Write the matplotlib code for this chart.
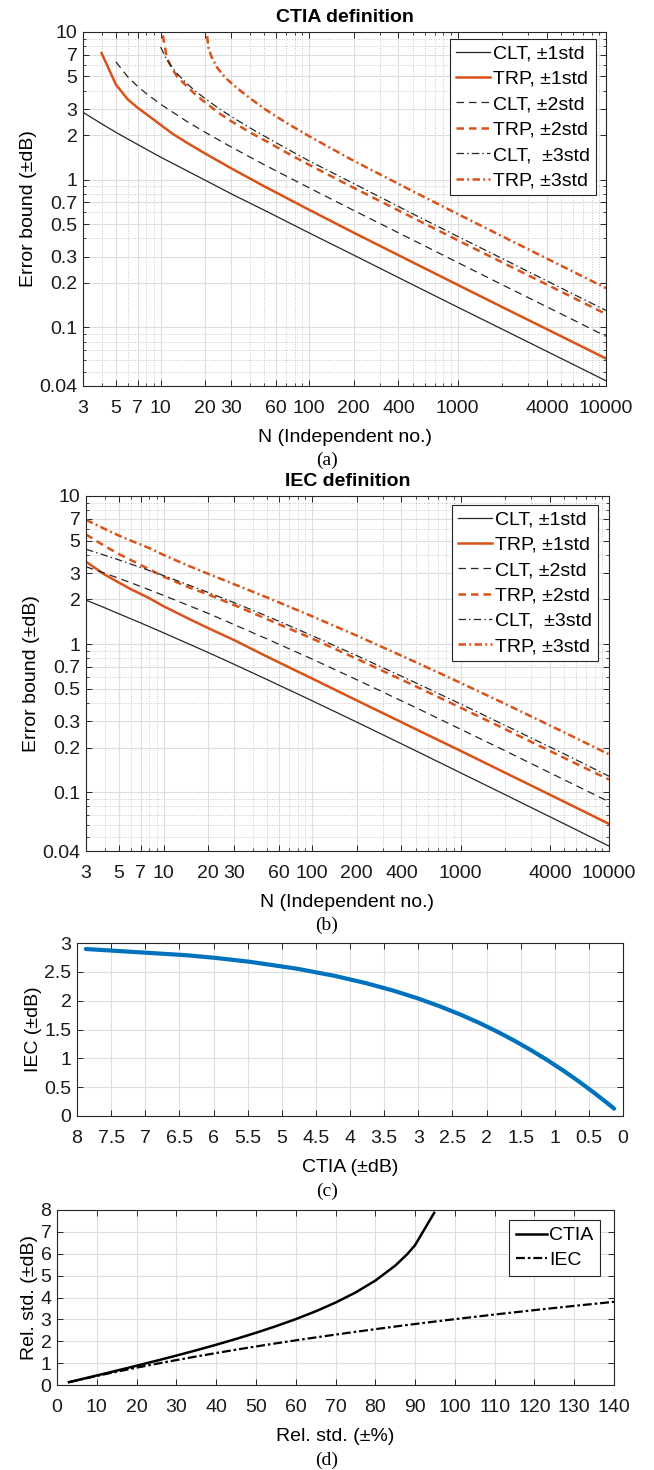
import numpy as np
import matplotlib
matplotlib.use('Agg')
import matplotlib.pyplot as plt
from matplotlib.ticker import FixedLocator, NullFormatter

# ---- (a) CTIA definition: error bound (+-dB) vs N ----
n_clt1_a = [3, 4, 5, 7, 10, 20, 30, 50, 100, 200, 500, 1000, 2000, 5000, 10000]
clt1_a = [2.86, 2.39, 2.09, 1.73, 1.42, 0.99, 0.80, 0.62, 0.436, 0.308, 0.194, 0.137, 0.097, 0.0614, 0.0434]
n_clt2_a = [5, 6, 7, 8, 10, 15, 20, 30, 50, 100, 200, 500, 1000, 2000, 5000, 10000]
clt2_a = [6.27, 4.98, 4.28, 3.83, 3.24, 2.48, 2.09, 1.66, 1.26, 0.88, 0.618, 0.39, 0.275, 0.194, 0.123, 0.0869]
n_clt3_a = [10, 11, 12, 13, 15, 17, 20, 25, 30, 40, 50, 70, 100, 200, 500, 1000, 2000, 5000, 10000]
clt3_a = [7.90, 6.50, 5.72, 5.19, 4.48, 4.01, 3.53, 3.01, 2.67, 2.24, 1.97, 1.63, 1.34, 0.94, 0.586, 0.413, 0.292, 0.184, 0.130]
n_trp1_a = [4, 5, 6, 7, 8, 10, 12, 15, 20, 30, 50, 100, 200, 500, 1000, 2000, 5000, 10000]
trp1_a = [7.2, 4.4, 3.5, 3.07, 2.78, 2.35, 2.05, 1.78, 1.5, 1.19, 0.9, 0.625, 0.437, 0.275, 0.194, 0.137, 0.0868, 0.0614]
n_trp2_a = [10, 11, 12, 13, 15, 17, 20, 25, 30, 40, 50, 70, 100, 200, 500, 1000, 2000, 5000, 10000]
trp2_a = [11.5, 6.7, 5.6, 4.95, 4.3, 3.8, 3.33, 2.8, 2.48, 2.09, 1.85, 1.53, 1.26, 0.88, 0.552, 0.389, 0.275, 0.174, 0.1229]
n_trp3_a = [20, 21, 22, 24, 27, 30, 35, 40, 50, 70, 100, 200, 500, 1000, 2000, 5000, 10000]
trp3_a = [12, 7.8, 6.8, 5.75, 4.95, 4.5, 3.95, 3.56, 3.02, 2.43, 1.97, 1.34, 0.834, 0.586, 0.413, 0.261, 0.184]

# ---- (b) IEC definition ----
n_clt_b = [3, 4, 5, 7, 10, 20, 30, 50, 100, 200, 500, 1000, 2000, 5000, 10000]
clt1_b = [1.98, 1.76, 1.60, 1.39, 1.19, 0.876, 0.728, 0.574, 0.414, 0.297, 0.190, 0.135, 0.096, 0.061, 0.0432]
clt2_b = [3.33, 3.01, 2.78, 2.45, 2.13, 1.61, 1.35, 1.08, 0.792, 0.574, 0.372, 0.266, 0.190, 0.121, 0.086]
clt3_b = [4.37, 3.98, 3.70, 3.29, 2.90, 2.23, 1.90, 1.54, 1.14, 0.835, 0.547, 0.394, 0.282, 0.181, 0.128]
n_trp_b = [3, 4, 5, 6, 7, 8, 10, 15, 20, 30, 50, 100, 200, 500, 1000, 2000, 5000, 10000]
trp1_b = [3.6, 2.95, 2.6, 2.35, 2.18, 2.04, 1.8, 1.47, 1.28, 1.06, 0.82, 0.585, 0.416, 0.266, 0.19, 0.135, 0.086, 0.061]
trp2_b = [5.5, 4.6, 4.05, 3.7, 3.42, 3.2, 2.85, 2.4, 2.16, 1.83, 1.47, 1.09, 0.795, 0.518, 0.372, 0.266, 0.17, 0.1215]
trp3_b = [6.9, 6.0, 5.4, 5.0, 4.7, 4.45, 4.0, 3.35, 2.98, 2.53, 2.06, 1.54, 1.14, 0.754, 0.547, 0.394, 0.253, 0.18]

# ---- (c)/(d) relative std ----
rel_pct = [3, 5, 10, 15, 20, 25, 30, 35, 40, 45, 50, 55, 60, 65, 70, 75, 80, 85, 88, 90, 94.8]
ctia_db = [0.130, 0.217, 0.436, 0.656, 0.880, 1.109, 1.344, 1.587, 1.840, 2.105, 2.386, 2.686,
           3.010, 3.367, 3.766, 4.225, 4.771, 5.455, 5.975, 6.394, 7.87]
iec_db = [0.128, 0.212, 0.414, 0.607, 0.792, 0.969, 1.139, 1.303, 1.461, 1.614, 1.761, 1.903,
          2.041, 2.175, 2.304, 2.430, 2.553, 2.672, 2.742, 2.788, 2.896]
rel_pct_ext = [100, 110, 120, 130, 140]
iec_db_ext = [3.010, 3.222, 3.424, 3.617, 3.802]

xt_log = [3, 5, 7, 10, 20, 30, 60, 100, 200, 400, 1000, 4000, 10000]
xt_log_minor = [4, 6, 8, 9, 40, 50, 70, 80, 90, 300, 500, 600, 700, 800, 900,
                2000, 3000, 5000, 6000, 7000, 8000, 9000]
yt_log = [0.04, 0.1, 0.2, 0.3, 0.5, 0.7, 1, 2, 3, 5, 7, 10]
yt_log_lab = ['0.04', '0.1', '0.2', '0.3', '0.5', '0.7', '1', '2', '3', '5', '7', '10']
yt_log_minor = [0.05, 0.06, 0.07, 0.08, 0.09, 0.4, 0.6, 0.8, 0.9, 4, 6, 8, 9]

FS = 14
plt.rcParams['font.family'] = ['Liberation Sans', 'DejaVu Sans']
plt.rcParams['font.size'] = FS

ORANGE = '#D95319'
DARK = '#262626'
GRID = '#dedede'

fig = plt.figure(figsize=(6.54, 14.7), dpi=100)
W, H = 654.0, 1470.0


def add_ax(l, t, r, b):
    return fig.add_axes([l / W, 1 - b / H, (r - l) / W, (b - t) / H])


def frame(ax):
    for s in ax.spines.values():
        s.set_color(DARK)
        s.set_linewidth(0.8)
    ax.tick_params(which='both', direction='in', top=True, right=True, colors=DARK,
                   labelcolor='#1a1a1a', labelsize=FS)
    ax.tick_params(which='major', length=4, width=0.7)
    ax.tick_params(which='minor', length=2.5, width=0.6)
    ax.tick_params(axis='x', pad=10)
    ax.tick_params(axis='y', pad=4)
    ax.set_axisbelow(True)


def log_panel(ax, title):
    ax.set_xscale('log')
    ax.set_yscale('log')
    ax.set_xlim(3, 10000)
    ax.set_ylim(0.04, 10)
    ax.xaxis.set_major_locator(FixedLocator(xt_log))
    ax.set_xticklabels([str(v) for v in xt_log])
    ax.xaxis.set_minor_locator(FixedLocator(xt_log_minor))
    ax.xaxis.set_minor_formatter(NullFormatter())
    ax.yaxis.set_major_locator(FixedLocator(yt_log))
    ax.set_yticklabels(yt_log_lab)
    ax.yaxis.set_minor_locator(FixedLocator(yt_log_minor))
    ax.yaxis.set_minor_formatter(NullFormatter())
    ax.grid(which='major', color=GRID, lw=0.8, ls='-')
    ax.grid(which='minor', color='#c8c8c8', lw=0.7, ls=':')
    frame(ax)
    ax.set_title(title, fontweight='bold', fontsize=FS, pad=7)
    ax.set_xlabel('N (Independent no.)', fontsize=FS, labelpad=9)
    ax.set_ylabel('Error bound (\u00b1dB)', fontsize=FS, labelpad=2)


def draw_set(ax, c1, t1, c2, t2, c3, t3):
    ax.plot(c1[0], c1[1], '-', color=DARK, lw=0.9, label='CLT, \u00b11std')
    ax.plot(t1[0], t1[1], '-', color=ORANGE, lw=1.8, label='TRP, \u00b11std')
    ax.plot(c2[0], c2[1], '--', color=DARK, lw=0.9, dashes=(6, 4), label='CLT, \u00b12std')
    ax.plot(t2[0], t2[1], '--', color=ORANGE, lw=1.8, dashes=(3, 2), label='TRP, \u00b12std')
    ax.plot(c3[0], c3[1], '-.', color=DARK, lw=0.9, dashes=(6, 2.5, 1.2, 2.5), label='CLT,  \u00b13std')
    ax.plot(t3[0], t3[1], '-.', color=ORANGE, lw=1.8, dashes=(3, 1.3, 0.8, 1.3), label='TRP, \u00b13std')


def legend(ax, x, y):
    leg = ax.legend(loc='upper right', bbox_to_anchor=(x, y), borderaxespad=0,
                    fontsize=FS, handlelength=1.75, handletextpad=0.15,
                    labelspacing=0.4, borderpad=0.3, fancybox=False,
                    framealpha=1, edgecolor=DARK)
    leg.get_frame().set_linewidth(0.8)


# (a)
ax1 = add_ax(83, 32, 606, 386)
log_panel(ax1, 'CTIA definition')
draw_set(ax1, (n_clt1_a, clt1_a), (n_trp1_a, trp1_a), (n_clt2_a, clt2_a),
         (n_trp2_a, trp2_a), (n_clt3_a, clt3_a), (n_trp3_a, trp3_a))
legend(ax1, 0.981, 0.980)

# (b)
ax2 = add_ax(86, 496, 609, 851)
log_panel(ax2, 'IEC definition')
draw_set(ax2, (n_clt_b, clt1_b), (n_trp_b, trp1_b), (n_clt_b, clt2_b),
         (n_trp_b, trp2_b), (n_clt_b, clt3_b), (n_trp_b, trp3_b))
legend(ax2, 0.979, 0.975)

# (c)
ax3 = add_ax(77, 943, 623, 1116)
ax3.plot(ctia_db, iec_db, '-', color='#0072BD', lw=3, solid_capstyle='round')
ax3.set_xlim(8, 0)
ax3.set_ylim(0, 3)
xt_c = [8, 7.5, 7, 6.5, 6, 5.5, 5, 4.5, 4, 3.5, 3, 2.5, 2, 1.5, 1, 0.5, 0]
ax3.set_xticks(xt_c)
ax3.set_xticklabels(['%g' % v for v in xt_c])
yt_c = [0, 0.5, 1, 1.5, 2, 2.5, 3]
ax3.set_yticks(yt_c)
ax3.set_yticklabels(['%g' % v for v in yt_c])
ax3.grid(color=GRID, lw=0.8)
frame(ax3)
ax3.set_xlabel('CTIA (\u00b1dB)', fontsize=FS, labelpad=9)
ax3.set_ylabel('IEC (\u00b1dB)', fontsize=FS, labelpad=2)

# (d)
ax4 = add_ax(57, 1210, 614, 1385)
ax4.plot(rel_pct, ctia_db, '-', color='black', lw=1.8, label='CTIA')
ax4.plot(rel_pct + rel_pct_ext, iec_db + iec_db_ext, color='black', lw=1.6,
         ls=(0, (4, 1.3, 1.2, 1.3)), label='IEC')
ax4.set_xlim(0, 140)
ax4.set_ylim(0, 8)
ax4.set_xticks(range(0, 141, 10))
ax4.set_yticks(range(0, 9))
ax4.grid(color=GRID, lw=0.8)
frame(ax4)
ax4.set_xlabel('Rel. std. (\u00b1%)', fontsize=FS, labelpad=9)
ax4.set_ylabel('Rel. std. (\u00b1dB)', fontsize=FS, labelpad=2)
leg = ax4.legend(loc='upper right', bbox_to_anchor=(0.975, 0.943), borderaxespad=0,
                 fontsize=FS, handlelength=1.6, handletextpad=0.1, labelspacing=0.35,
                 borderpad=0.35, fancybox=False, framealpha=1, edgecolor=DARK)
leg.get_frame().set_linewidth(0.8)

for lab, ypx in [('(a)', 460), ('(b)', 925), ('(c)', 1191), ('(d)', 1460)]:
    fig.text(0.5, 1 - ypx / H, lab, ha='center', va='center', fontsize=FS,
             family=['Liberation Serif', 'DejaVu Serif'])

fig.savefig('out.png', dpi=100)
